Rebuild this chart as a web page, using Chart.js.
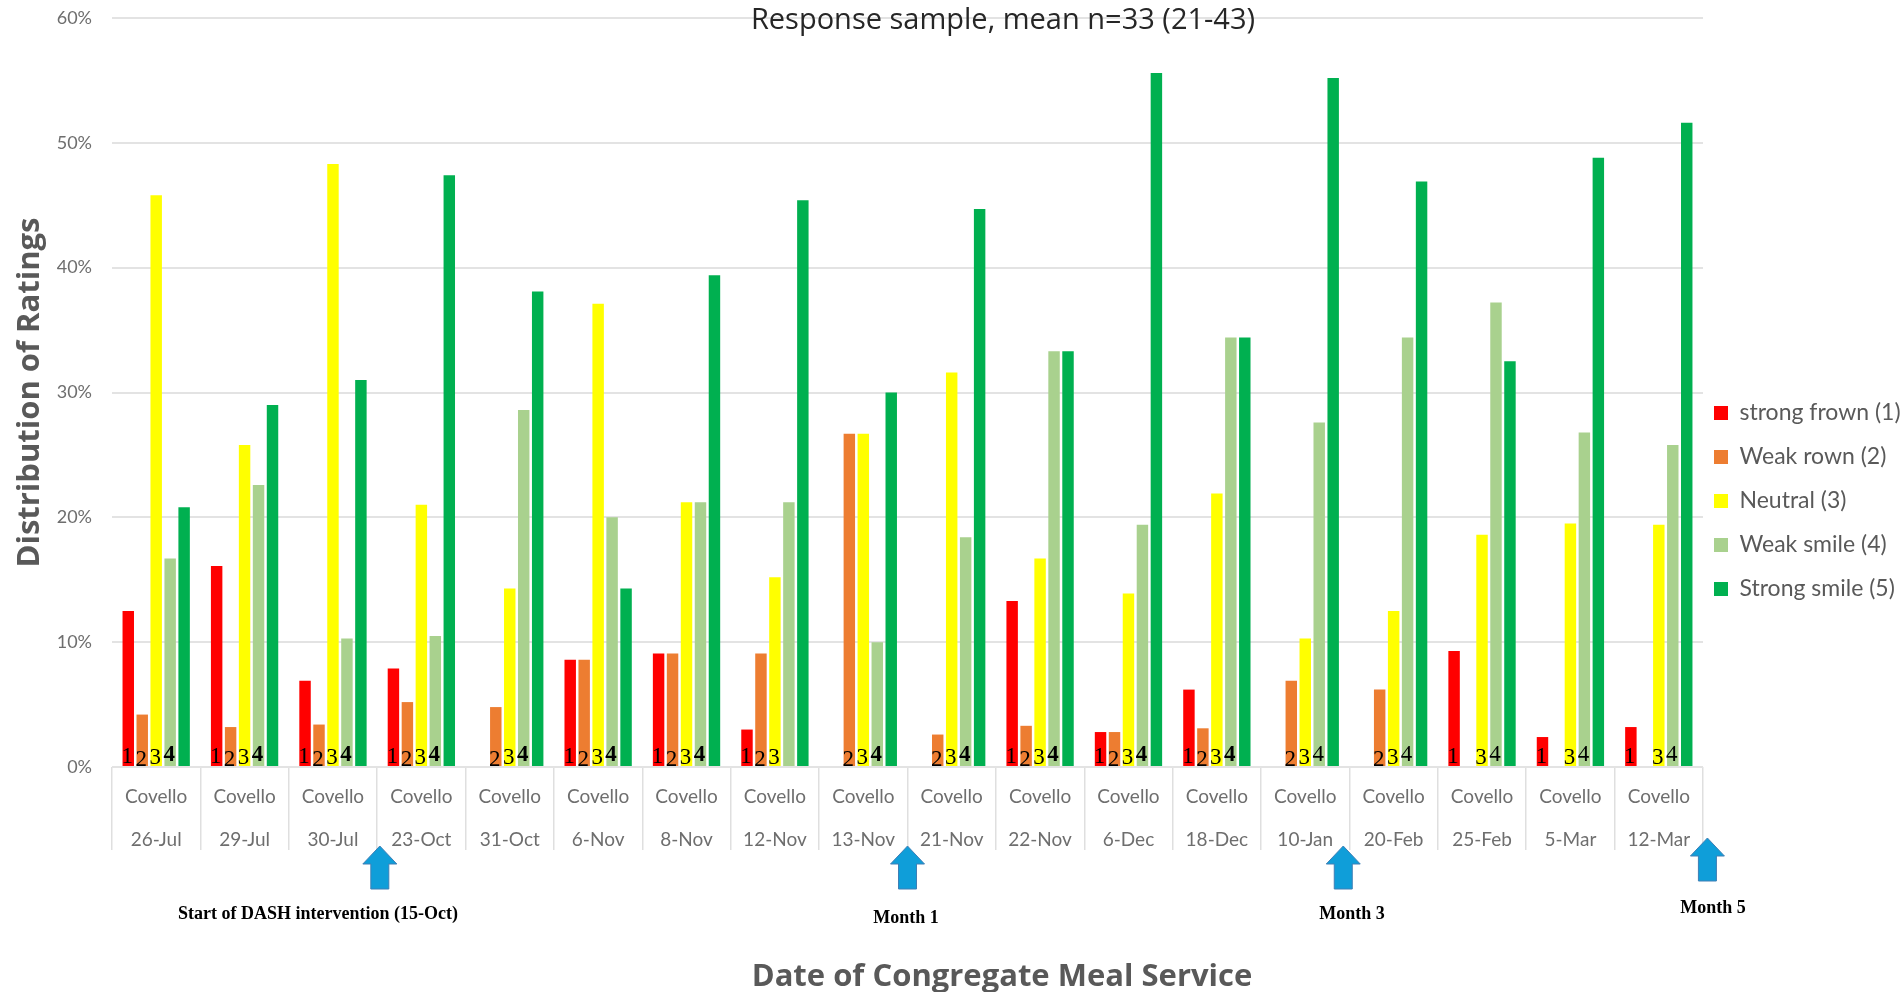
<!DOCTYPE html>
<html>
<head>
<meta charset="utf-8">
<title>Response sample</title>
<script src="https://cdn.jsdelivr.net/npm/chart.js@4"></script>
<style>
  html, body { margin: 0; padding: 0; background: #fff; }
  #wrap { width: 1902px; height: 992px; }
</style>
</head>
<body>
<div id="wrap"><canvas id="chart" width="1902" height="992"></canvas></div>
<script>
const dates = ["26-Jul","29-Jul","30-Jul","23-Oct","31-Oct","6-Nov","8-Nov","12-Nov","13-Nov","21-Nov","22-Nov","6-Dec","18-Dec","10-Jan","20-Feb","25-Feb","5-Mar","12-Mar"];
const site = "Covello";
const seriesNames = ["strong frown (1)","Weak rown (2)","Neutral (3)","Weak smile (4)","Strong smile (5)"];
const seriesColors = ["#ff0000","#ed7d31","#ffff00","#a9d18e","#00b050"];

const strongFrown = [12.5,16.1,6.9,7.9,0,8.6,9.1,3.0,0,0,13.3,2.8,6.2,0,0,9.3,2.4,3.2];
const weakFrown = [4.2,3.2,3.4,5.2,4.8,8.6,9.1,9.1,26.7,2.6,3.3,2.8,3.1,6.9,6.2,0,0,0];
const neutral = [45.8,25.8,48.3,21.0,14.3,37.1,21.2,15.2,26.7,31.6,16.7,13.9,21.9,10.3,12.5,18.6,19.5,19.4];
const weakSmile = [16.7,22.6,10.3,10.5,28.6,20.0,21.2,21.2,10.0,18.4,33.3,19.4,34.4,27.6,34.4,37.2,26.8,25.8];
const strongSmile = [20.8,29.0,31.0,47.4,38.1,14.3,39.4,45.4,30.0,44.7,33.3,55.6,34.4,55.2,46.9,32.5,48.8,51.6];

// digits typed over the bars in the original figure
const barDigits = ["1234","1234","1234","1234","234","1234","1234","123","234","234","1234","1234","1234","234","234","134","134","134"];

const arrowSlots = [3.03, 9, 13.93, 18.05];
const arrowNotes = ["Start of DASH intervention (15-Oct)","Month 1","Month 3","Month 5"];

const mainTitle = "Response sample, mean n=33 (21-43)";
const xTitle = "Date of Congregate Meal Service";
const yTitle = "Distribution of Ratings";

const serif = '"Liberation Serif", serif';
const digitNudge = { 1: [-1, 10], 2: [-1, 7], 3: [-1, 9], 4: [-1, 12] };

const overlay = {
  id: "overlay",
  // legend column has a fixed width here, the text is wider than the space chart.js wants to give it
  beforeLayout(chart) {
    const legend = chart.legend;
    if (legend.patched) return;
    legend.patched = true;
    const fit = legend.fit;
    legend.fit = function () { fit.call(this); this.width = 199; };
    const draw = legend.draw;
    legend.draw = function () {
      this.left -= 10;
      this.top -= 4;
      this.bottom -= 4;
      draw.call(this);
      this.left += 10;
      this.top += 4;
      this.bottom += 4;
    };
  },
  afterDatasetsDraw(chart) {
    const ctx = chart.ctx;
    const x = chart.scales.x;
    const y0 = chart.scales.y.getPixelForValue(0);

    ctx.save();
    ctx.textAlign = "center";
    ctx.textBaseline = "middle";

    // digits
    barDigits.forEach((digits, i) => {
      digits.split("").forEach(d => {
        const bar = chart.getDatasetMeta(Number(d) - 1).data[i];
        const nudge = digitNudge[d];
        ctx.fillStyle = "#000";
        ctx.font = (d === "4" && i < 13 ? "bold " : "") + "23px " + serif;
        ctx.fillText(d, bar.x + nudge[0], y0 - nudge[1]);
      });
    });

    // arrows
    const step = (x.right - x.left) / dates.length;
    arrowSlots.forEach((slot, i) => {
      const cx = x.left + slot * step;
      const top = i === 3 ? 838 : 846;
      ctx.beginPath();
      ctx.moveTo(cx, top);
      ctx.lineTo(cx + 17, top + 18);
      ctx.lineTo(cx + 9, top + 18);
      ctx.lineTo(cx + 9, top + 43);
      ctx.lineTo(cx - 9, top + 43);
      ctx.lineTo(cx - 9, top + 18);
      ctx.lineTo(cx - 17, top + 18);
      ctx.closePath();
      ctx.fillStyle = "#0f9ed9";
      ctx.fill();
      ctx.lineWidth = 1;
      ctx.strokeStyle = "#3f7fb5";
      ctx.stroke();
    });

    // notes under the arrows
    ctx.fillStyle = "#000";
    ctx.font = "bold 18px " + serif;
    ctx.fillText(arrowNotes[0], 318, 914);
    ctx.fillText(arrowNotes[1], 906, 918);
    ctx.fillText(arrowNotes[2], 1352, 914);
    ctx.fillText(arrowNotes[3], 1713, 908);

    // titles sit off centre in the original
    ctx.fillStyle = "#262626";
    ctx.font = '29px "Open Sans"';
    ctx.fillText(mainTitle, 1003, 21);
    ctx.fillStyle = "#595959";
    ctx.font = 'bold 31px "Open Sans"';
    ctx.fillText(xTitle, 1002, 977);
    ctx.restore();
  }
};

new Chart(document.getElementById("chart"), {
  type: "bar",
  data: {
    labels: dates.map(d => [site, d]),
    datasets: [strongFrown, weakFrown, neutral, weakSmile, strongSmile].map((values, i) => ({
      label: seriesNames[i],
      data: values,
      backgroundColor: seriesColors[i],
      categoryPercentage: 0.79,
      barPercentage: 0.82
    }))
  },
  options: {
    responsive: false,
    animation: false,
    layout: { padding: { top: 18, right: 0, bottom: 0, left: 0 } },
    plugins: {
      tooltip: { enabled: false },
      legend: {
        position: "right",
        labels: {
          boxWidth: 14,
          boxHeight: 14,
          padding: 21,
          color: "#595959",
          font: { family: "Lato", size: 23 }
        }
      }
    },
    scales: {
      x: {
        offset: true,
        border: { display: false },
        grid: {
          offset: true,
          drawOnChartArea: false,
          color: "#dfdfdf",
          lineWidth: 1.5,
          tickLength: 83
        },
        ticks: {
          autoSkip: false,
          maxRotation: 0,
          padding: -75,
          color: "#6e6e6e",
          font: { family: "Lato", size: 19, lineHeight: 2.27 }
        },
        afterFit(scale) {
          scale.height = 225;
          scale.paddingLeft = 0;
          scale.paddingRight = 0;
        }
      },
      y: {
        min: 0,
        max: 60,
        border: { display: false },
        grid: { color: "#e3e3e3", lineWidth: 2, drawTicks: false },
        ticks: {
          stepSize: 10,
          padding: 20,
          color: "#6e6e6e",
          font: { family: "Lato", size: 18 },
          callback: v => v + "%"
        },
        title: {
          display: true,
          text: yTitle,
          color: "#595959",
          font: { family: "Open Sans", size: 31, weight: "bold" },
          padding: { top: 12, bottom: 0 }
        },
        afterFit(scale) {
          scale.width = 112;
          scale.paddingTop = 0;
          scale.paddingBottom = 0;
        }
      }
    }
  },
  plugins: [overlay]
});
</script>
</body>
</html>
